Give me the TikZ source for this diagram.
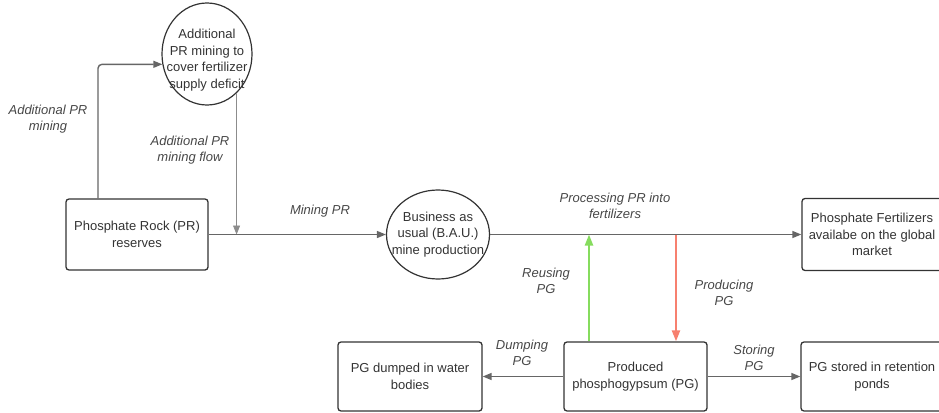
\documentclass[tikz,border=0pt]{standalone}
\usepackage{fontspec}
\setmainfont{Liberation Sans}
\usetikzlibrary{shapes.geometric,arrows.meta}
\definecolor{ink}{HTML}{333333}
\definecolor{wire}{HTML}{666666}
\definecolor{reuse}{HTML}{86DC5E}
\definecolor{produce}{HTML}{F7806F}
\begin{document}
\begin{tikzpicture}[x=1pt,y=-1pt,
  every node/.style={font=\fontsize{13}{16.5}\selectfont, text=ink, align=center, inner sep=0},
  stock/.style={draw=ink, line width=1.3pt, rounded corners=3pt, minimum width=142, minimum height=71},
  process/.style={ellipse, draw=ink, line width=1.2pt},
  flow/.style={draw=wire, line width=1.4pt, -{Triangle[length=9pt,width=7pt]}},
  thinflow/.style={draw=wire!75, line width=0.8pt, -{Triangle[length=9pt,width=7pt]}},
  reuseflow/.style={draw=reuse, line width=2.2pt, -{Triangle[length=11pt,width=8pt]}},
  produceflow/.style={draw=produce, line width=2.2pt, -{Triangle[length=11pt,width=8pt]}},
  tag/.style={font=\fontsize{13}{16}\selectfont\itshape, text=ink!90}
]
\useasboundingbox (0,0) rectangle (939,412);
\clip (0,0) rectangle (939,412);

% stocks
\node[stock] (pr) at (137,234.5) {Phosphate Rock (PR)\\reserves};
\node[stock, minimum width=140, minimum height=72] (fert) at (872,234.5) {Phosphate Fertilizers\\availabe on the global\\market};
\node[stock, minimum width=144, minimum height=69] (dump) at (410,376.5) {PG dumped in water\\bodies};
\node[stock, minimum width=143, minimum height=69] (pg) at (635.5,376.5) {Produced\\phosphogypsum (PG)};
\node[stock, minimum width=142, minimum height=69] (store) at (872,376.5) {PG stored in retention\\ponds};

% processes (outline and text kept apart so the ellipse keeps its size)
\node[process, minimum width=90, minimum height=102] (add) at (207,54) {};
\node (addtext) at ([yshift=-6]add.center) {Additional\\PR mining to\\cover fertilizer\\supply deficit};
\node[process, minimum width=103, minimum height=89] (bau) at (438,234.5) {};
\node (bautext) at (bau.center) {Business as\\usual (B.A.U.)\\mine production};

% flows
\draw[flow, rounded corners=4] ([xshift=-39]pr.north) |- (add.193);
\draw[thinflow] (add.-53) -- (add.-53 |- pr.east);
\draw[flow] (pr.east) -- (bau.west);
\draw[flow] (bau.east) -- (fert.west);
\coordinate (reuseFoot) at ([xshift=-46.5]pg.north);
\coordinate (produceFoot) at ([xshift=40.5]pg.north);
\draw[reuseflow] (reuseFoot) -- (reuseFoot |- bau.east);
\draw[produceflow] (produceFoot |- bau.east) -- (produceFoot);
\draw[flow] (pg.west) -- (dump.east);
\draw[flow] (pg.east) -- (store.west);

% flow labels
\node[tag] (l1) at (48,119.5) {Additional PR\\mining};
\node[tag] (l2) at (190,150) {Additional PR\\mining flow};
\node[tag] (l3) at (320,211) {Mining PR};
\node[tag] (l4) at (615,206) {Processing PR into\\fertilizers};
\node[tag] (l5) at (546,280.5) {Reusing\\PG};
\node[tag] (l6) at (724,292.5) {Producing\\PG};
\node[tag] (l7) at (522,352.5) {Dumping\\PG};
\node[tag] (l8) at (754,357.5) {Storing\\PG};
\end{tikzpicture}
\end{document}
